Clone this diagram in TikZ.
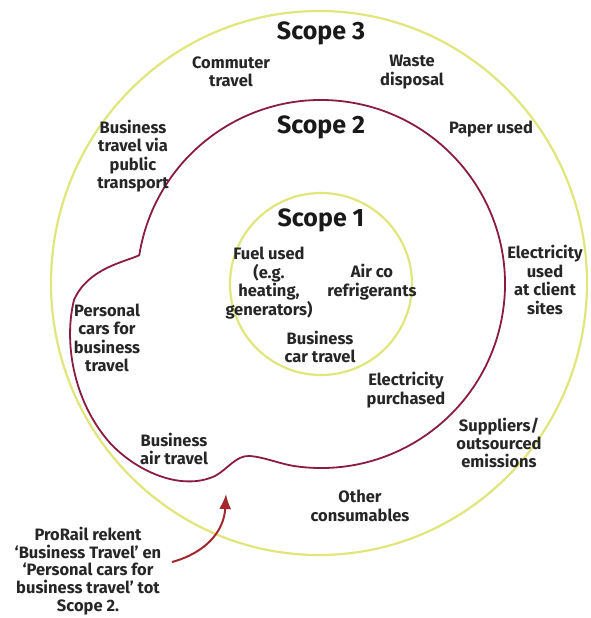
\documentclass[tikz,border=0pt]{standalone}
\usepackage{fontspec}
\setmainfont{Fira Sans}
\usetikzlibrary{arrows.meta}

\definecolor{ringyellow}{HTML}{E0E67C}
\definecolor{scopered}{HTML}{8A1C40}
\definecolor{arrowred}{HTML}{A3272F}

\begin{document}
\begin{tikzpicture}[x=1pt, y=-1pt, lbl/.style={align=center, inner sep=0pt, text=black!85, font=\bfseries\fontsize{16.5}{18.4}\selectfont}, hd/.style={inner sep=0pt, text=black!90, font=\bfseries\fontsize{25}{28}\selectfont}, ring/.style={draw=ringyellow, line width=2.2pt}, sc/.style={draw=scopered, line width=1.8pt}, arr/.style={draw=arrowred, line width=2pt, -{Latex[length=15pt, width=12pt]}}]
		\fill[white] (0,0) rectangle (590,618);
		\useasboundingbox (0,0) rectangle (590,618);

		\coordinate (o) at (319,283);
		\coordinate (c) at (321,284);
		\draw[ring] (o) ellipse[x radius=268, y radius=272];
		\draw[ring] (c) circle[radius=91];
		\draw[sc] ([shift={(c)}]98:184) arc[start angle=98, end angle=-171, radius=184]
			.. controls (125,262) and (88,268) .. (74,300)
			.. controls (64,340) and (72,400) .. (110,443)
			.. controls (135,470) and (180,492) .. (215,476)
			.. controls (228,469) and (236,455) .. (250,456)
			.. controls (264,457) and (280,464) .. (295.4,466.2) -- cycle;

		\node[hd] (S3) at (321,33) {Scope 3};
		\node[hd] (S2) at (321,127) {Scope 2};
		\node[hd] (S1) at (321,220) {Scope 1};

		\node[lbl] (commute) at (231,72) {Commuter\\travel};
		\node[lbl] (waste) at (412,72) {Waste\\disposal};
		\node[lbl] (paper) at (491,129) {Paper used};
		\node[lbl] (bizpub) at (133,156) {Business\\travel via\\public\\transport};
		\node[lbl] (fuel) at (269,283) {Fuel used\\(e.g.\\heating,\\generators)};
		\node[lbl] (airco) at (372,282) {Air co\\refrigerants};
		\node[lbl] (bizcar) at (320,347) {Business\\car travel};
		\node[lbl] (elecclient) at (545,280) {Electricity\\used\\at client\\sites};
		\node[lbl] (elecbuy) at (406,390) {Electricity\\purchased};
		\node[lbl] (suppliers) at (499,443) {Suppliers/\\outsourced\\emissions};
		\node[lbl] (other) at (360,506) {Other\\consumables};
		\node[lbl] (personal) at (107,338) {Personal\\cars for\\business\\travel};
		\node[lbl] (bizair) at (174,449) {Business\\air travel};
		\node[lbl, font=\bfseries\fontsize{16.5}{17.6}\selectfont] (note) at (88,571) {ProRail rekent\\‘Business Travel’ en\\‘Personal cars for\\business travel’ tot\\Scope 2.};

		\coordinate (tip) at (226,494);
		\draw[arr] ([shift={(84pt,9pt)}]note.center) .. controls (205,553) and (224,532) .. (tip);
	\end{tikzpicture}
\end{document}
